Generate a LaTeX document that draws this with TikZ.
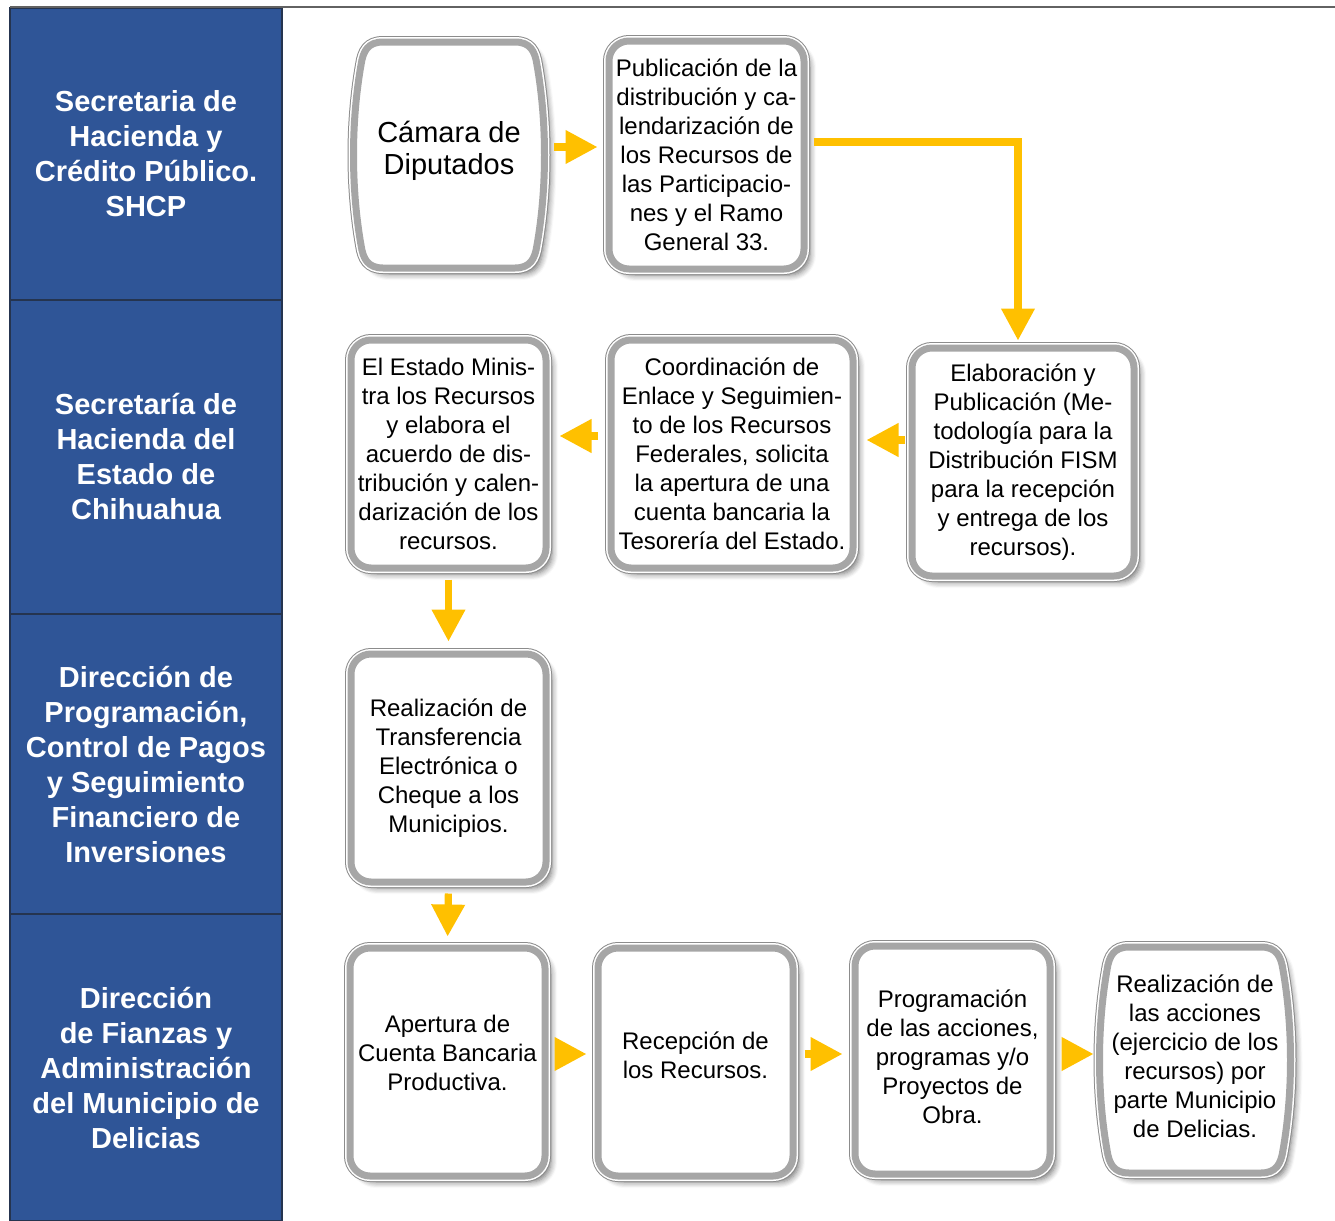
\documentclass[tikz,border=0pt]{standalone}
\usepackage{fontspec}
\setmainfont{Liberation Sans}
\usepackage{xcolor}
\usepackage{tikz}
\usetikzlibrary{arrows.meta,shadows.blur}
\definecolor{lanebl}{HTML}{2F5597}
\definecolor{lanedk}{HTML}{25344F}
\definecolor{bandgr}{HTML}{A6A6A6}
\definecolor{rimgr}{HTML}{8C8C8C}
\definecolor{flowyl}{HTML}{FFC000}
\tikzset{lane/.style={rectangle, fill=lanebl, draw=lanedk, line width=0.8pt, minimum width=136pt, inner sep=0pt, text=white, align=center, font=\bfseries\fontsize{14.5}{17.5}\selectfont},
boxline/.style={fill=white, blur shadow={shadow xshift=3pt, shadow yshift=-3pt, shadow blur steps=6, shadow blur radius=3pt, shadow opacity=55}, preaction={draw=rimgr, line width=6pt}, preaction={draw=white, line width=5pt}, draw=bandgr, line width=3.5pt},
procbox/.style={boxline, rectangle, rounded corners=10pt, minimum width=97.5pt, minimum height=114pt, inner sep=1pt, align=center, font=\fontsize{12}{14.5}\selectfont},
%text only, the border comes from the pic
plaintxt/.style={rectangle, minimum width=95pt, minimum height=114pt, inner sep=1pt, align=center, font=\fontsize{12}{14.5}\selectfont},
barrel/.pic={\draw[boxline] (-66,-113) -- (66,-113) .. controls (81,-113) and (86,-104) .. (88,-90) .. controls (98,-33) and (98,33) .. (88,90) .. controls (86,104) and (81,113) .. (66,113) -- (-66,113) .. controls (-81,113) and (-86,104) .. (-88,90) .. controls (-98,33) and (-98,-33) .. (-88,-90) .. controls (-86,-104) and (-81,-113) .. (-66,-113) -- cycle;},
flow/.style={draw=flowyl, line width=3.6pt, -{Triangle[width=16pt,length=16pt]}}}

\begin{document}
\begin{tikzpicture}[x=0.5pt, y=-0.5pt]
\useasboundingbox (0,0) rectangle (1335,1221);
% lanes
\node[lane, minimum height=146pt] (shcp) at (146,154) {Secretaria de\\Hacienda y\\Crédito Público.\\SHCP};
\node[lane, minimum height=157pt] (estado) at (146,457) {Secretaría de\\Hacienda del\\Estado de\\Chihuahua};
\node[lane, minimum height=150pt] (direccion) at (146,764) {Dirección de\\Programación,\\Control de Pagos\\y Seguimiento\\Financiero de\\Inversiones};
\node[lane, minimum height=153.5pt] (municipio) at (146,1067.5) {Dirección\\de Fianzas y\\Administración\\del Municipio de\\Delicias};
\draw[rimgr!70!black, line width=1pt] (10,7) -- (1335,7);

% first row
\pic at (449,155) {barrel};
\node[plaintxt, font=\fontsize{14.5}{16}\selectfont] (camara) at (449,155) {Cámara de\\Diputados\\[-9pt]};
\node[procbox] (pub) at (706.5,155) {Publicación de la\\distribución y ca-\\lendarización de\\los Recursos de\\las Participacio-\\nes y el Ramo\\General 33.};

% second row
\node[procbox, minimum width=111pt] (elab) at (1023,462) {Elaboración y\\Publicación (Me-\\todología para la\\Distribución FISM\\para la recepción\\y entrega de los\\recursos).};
\node[procbox, minimum width=121pt] (coord) at (732,454) {Coordinación de\\Enlace y Seguimien-\\to de los Recursos\\Federales, solicita\\la apertura de una\\cuenta bancaria la\\Tesorería del Estado.};
\node[procbox] (minis) at (448.5,454) {El Estado Minis-\\tra los Recursos\\y elabora el\\acuerdo de dis-\\tribución y calen-\\darización de los\\recursos.};

% third row
\node[procbox] (transf) at (448.5,768) {Realización de\\Transferencia\\Electrónica o\\Cheque a los\\Municipios.};

% fourth row
\node[procbox] (apert) at (447.5,1062) {Apertura de\\Cuenta Bancaria\\Productiva.\\[-5.5pt]};
\node[procbox] (recep) at (695.5,1062) {Recepción de\\los Recursos.\\[-8pt]};
\node[procbox] (prog) at (952.5,1060) {Programación\\de las acciones,\\programas y/o\\Proyectos de\\Obra.\\[-11pt]};
\pic at (1195,1060) {barrel};
\node[plaintxt] (realiz) at (1195,1060) {Realización de\\las acciones\\(ejercicio de los\\recursos) por\\parte Municipio\\de Delicias.\\[-10.5pt]};

% connectors
\draw[flow, shorten <=5pt, shorten >=4pt] ([yshift=4pt]camara.east) -- ([yshift=4pt]pub.west);
\draw[flow, shorten <=3pt, shorten >=2pt] ([yshift=6.5pt]pub.east) -| ([xshift=-2.5pt]elab.north);
\draw[flow, shorten <=2pt, shorten >=5pt] ([yshift=11pt]elab.west) -- ([yshift=7pt]coord.east);
\draw[flow, shorten <=5pt, shorten >=5pt] ([yshift=9pt]coord.west) -- ([yshift=9pt]minis.east);
\draw[flow, shorten <=4pt, shorten >=4.5pt] (minis.south) -- (transf.north);
\draw[flow, shorten <=4pt, shorten >=4pt] (transf.south) -- (apert.north);
\draw[flow, shorten <=3pt, shorten >=4pt] ([yshift=4pt]apert.east) -- ([yshift=4pt]recep.west);
\draw[flow, shorten <=4pt, shorten >=4.5pt] ([yshift=4pt]recep.east) -- ([yshift=3pt]prog.west);
\draw[flow, shorten <=4pt, shorten >=3pt] ([yshift=3pt]prog.east) -- ([yshift=3pt]realiz.west);
\end{tikzpicture}
\end{document}
